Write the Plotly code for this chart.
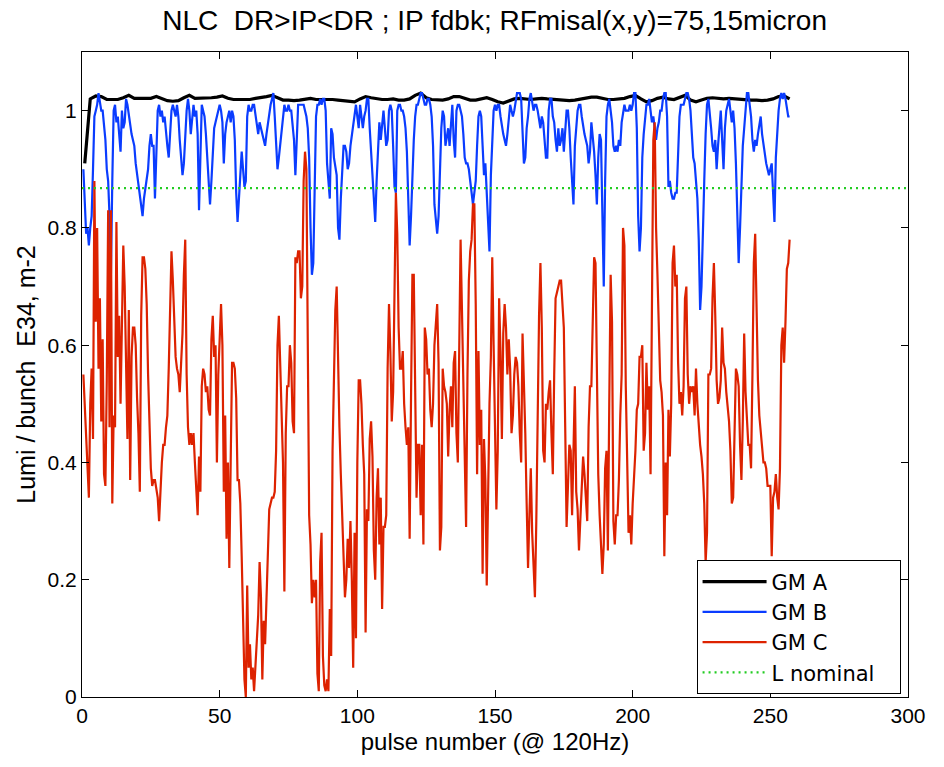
import numpy as np
import plotly.graph_objects as go

# ---------------- data ----------------
L_NOMINAL = 0.868
X_RANGE = [0, 300]

# GM A: one value every 2 pulses, starting at pulse 1
gm_a = [0.91, 1.02, 1.025, 1.024, 1.019, 1.019, 1.019, 1.022, 1.026, 1.021,
        1.021, 1.021, 1.021, 1.024, 1.020, 1.017, 1.016, 1.017, 1.022, 1.026,
        1.021, 1.021, 1.022, 1.022, 1.023, 1.025, 1.021, 1.019, 1.019, 1.019,
        1.019, 1.021, 1.022, 1.024, 1.026, 1.022, 1.018, 1.018, 1.017, 1.018,
        1.020, 1.021, 1.019, 1.019, 1.020, 1.019, 1.018, 1.017, 1.016, 1.015,
        1.020, 1.024, 1.022, 1.020, 1.019, 1.019, 1.020, 1.018, 1.018, 1.020,
        1.026, 1.030, 1.022, 1.019, 1.018, 1.018, 1.020, 1.024, 1.024, 1.021,
        1.018, 1.018, 1.020, 1.022, 1.019, 1.015, 1.013, 1.016, 1.020, 1.021,
        1.020, 1.019, 1.020, 1.021, 1.020, 1.019, 1.019, 1.018, 1.017, 1.018,
        1.020, 1.021, 1.023, 1.023, 1.021, 1.019, 1.019, 1.020, 1.021, 1.024,
        1.026, 1.020, 1.015, 1.017, 1.021, 1.023, 1.020, 1.019, 1.023, 1.026,
        1.018, 1.015, 1.018, 1.021, 1.022, 1.021, 1.020, 1.021, 1.020, 1.019,
        1.019, 1.018, 1.018, 1.017, 1.018, 1.020, 1.024, 1.025, 1.020]

# GM B: one value every half pulse, starting at pulse 0.5
gm_b = [
    0.90, 0.85, 0.79, 0.80, 0.77, 0.80, 0.82, 0.90, 0.99, 1.00,
    1.01, 1.03, 1.01, 1.00, 1.00, 0.98, 0.95, 0.90, 0.88, 0.82,
    0.72, 0.88, 1.00, 1.01, 0.98, 0.99, 0.96, 0.93, 1.00, 0.97,
    0.98, 1.02, 1.01, 0.99, 0.98, 0.96, 0.95, 0.94, 0.91, 0.89,
    0.88, 0.85, 0.83, 0.82, 0.85, 0.87, 0.89, 0.90, 0.94, 0.96,
    0.94, 0.94, 0.85, 0.95, 1.00, 1.01, 0.99, 1.00, 0.98, 0.99,
    0.96, 0.94, 0.92, 0.96, 1.00, 1.01, 1.00, 0.99, 1.01, 0.99,
    0.95, 0.92, 0.89, 0.91, 0.96, 1.00, 1.02, 1.00, 0.96, 0.98,
    1.01, 0.99, 1.00, 0.96, 0.83, 0.92, 1.01,
    1.00, 0.99, 0.96, 0.92, 0.88, 0.84, 0.88, 0.94, 0.97, 0.98,
    0.99, 1.00, 1.01, 1.00, 0.98, 0.91, 0.96, 0.98, 0.99, 1.00,
    0.98, 1.00, 0.99, 0.95, 0.86, 0.81, 0.85, 0.90, 0.93, 0.90,
    0.87, 0.88, 0.99, 1.01, 1.00, 1.00, 1.01, 1.01, 0.99, 0.97,
    0.96, 0.98, 0.97, 0.96, 0.95, 0.94, 0.96, 0.98, 1.00, 1.01,
    1.02, 1.03, 0.99, 0.93, 0.90, 0.92, 0.94, 0.96, 0.99, 1.01,
    1.00, 1.00, 1.01, 1.00, 1.00, 0.97, 0.95, 0.89, 0.94, 1.01,
    1.01, 1.01, 1.01, 1.01, 1.00, 0.99, 0.97, 0.92, 0.80, 0.72,
    0.74, 0.88, 0.99, 1.01, 1.01,
    1.02, 1.01, 1.02, 1.02, 1.00, 0.91, 0.88, 0.85, 0.97, 0.96,
    0.92, 0.90, 0.89, 0.80, 0.78, 0.85, 0.90, 0.94, 0.94, 0.93,
    0.90, 0.91, 0.94, 0.96, 0.98, 1.00, 1.01, 0.99, 0.97, 1.01,
    0.99, 0.97, 0.99, 1.00, 1.02, 1.02, 0.97, 0.93, 0.89, 0.87,
    0.81, 0.88, 0.94, 0.98, 0.95, 0.98, 1.00, 0.97, 0.94, 0.95,
    1.00, 1.01, 1.00, 0.94, 0.87, 0.86, 1.00, 1.01, 1.01, 1.00,
    1.00, 0.99, 0.97, 0.93, 0.86, 0.77, 0.82, 0.89, 0.95, 0.99,
    1.01, 1.01, 1.02, 1.03, 1.03, 1.02, 1.01, 1.01, 1.02, 1.02,
    1.01, 0.99, 0.94, 0.84, 0.82,
    0.79, 0.82, 0.91, 0.97, 1.00, 0.99, 0.94, 0.96, 0.97, 0.94,
    0.98, 1.01, 0.95, 0.92, 1.00, 1.01, 1.01, 1.00, 0.99, 0.96,
    0.92, 0.91, 0.91, 0.90, 0.88, 0.87, 0.84, 0.86, 0.88, 0.94,
    0.99, 1.00, 0.99, 0.94, 0.89, 0.91, 0.86, 0.79, 0.76, 0.89,
    0.96, 1.00, 1.01, 1.00, 1.01, 1.01, 0.99, 0.97, 0.96, 0.95,
    0.94, 0.96, 0.99, 1.01, 1.00, 0.99, 1.00, 1.02, 1.03, 1.03,
    1.03, 1.02, 0.97, 0.91, 0.92, 0.97, 0.99, 1.02, 1.03, 1.01,
    1.00, 1.01, 1.01, 1.00, 0.98, 0.97, 0.99, 0.98, 0.95, 0.92,
    0.92, 1.00, 1.02, 1.02,
    0.99, 0.98, 0.95, 0.93, 0.97, 0.94, 0.95, 0.97, 0.93, 0.97,
    1.00, 1.00, 0.97, 0.92, 0.87, 0.84, 0.94, 0.97, 1.00, 1.01,
    1.01, 0.99, 0.97, 0.96, 0.95, 0.94, 0.91, 0.93, 0.98, 0.96,
    0.93, 0.89, 0.84, 0.92, 0.96, 0.95, 0.82, 0.70, 0.88, 0.99,
    1.01, 1.02, 1.00, 0.98, 0.94, 0.93, 0.94, 0.93, 0.95, 0.94,
    0.98, 1.00, 1.01, 1.00, 1.00, 1.00, 1.01, 1.00, 1.01, 1.03,
    1.03, 0.97, 0.82, 0.76, 0.80, 0.92, 0.96, 0.98, 1.01, 1.01,
    1.02, 1.00, 0.98, 0.99, 0.97, 0.95, 0.97, 0.98, 1.00, 1.00,
    1.02, 1.03, 1.03, 0.99, 0.87,
    0.88, 0.86, 0.85, 0.85, 0.86, 0.86, 0.94, 0.99, 1.01, 1.01,
    1.01, 1.02, 1.03, 1.03, 1.02, 1.00, 0.96, 0.92, 0.91, 0.88,
    0.85, 0.78, 0.66, 0.70, 0.82, 0.88, 0.96, 1.01, 1.02, 1.00,
    0.97, 0.94, 0.93, 0.95, 0.90, 0.94, 0.97, 1.00, 0.95, 0.90,
    0.97, 1.00, 1.01, 1.02, 1.00, 0.98, 1.00, 0.97, 0.91, 0.82,
    0.74, 0.80, 0.89, 0.94, 0.97, 1.01, 1.03, 1.03, 1.01, 0.99,
    0.95, 0.93, 0.95, 0.94, 0.96, 0.98, 0.99, 0.96, 0.94, 0.93,
    0.91, 0.90, 0.89, 0.90, 0.91, 0.86, 0.81, 0.92, 0.97, 1.00,
    1.02, 1.03, 1.02, 1.03, 1.02, 1.00, 0.99, 0.99]

# GM C: one value every half pulse, starting at pulse 0.5
gm_c = [
    0.55, 0.50, 0.44, 0.40, 0.34, 0.50, 0.56, 0.44, 0.88, 0.64,
    0.80, 0.56, 0.68, 0.47, 0.61, 0.38, 0.36, 0.54, 0.83, 0.46,
    0.83, 0.33, 0.48, 0.46, 0.81, 0.58, 0.65, 0.50, 0.63, 0.77,
    0.70, 0.57, 0.44, 0.66, 0.37, 0.58, 0.63, 0.63, 0.60, 0.51,
    0.45, 0.35, 0.65, 0.75, 0.75, 0.73, 0.67, 0.55, 0.46, 0.39,
    0.36, 0.37, 0.37, 0.35, 0.34, 0.30, 0.36, 0.40, 0.43, 0.43,
    0.46, 0.48, 0.56, 0.69, 0.76, 0.71, 0.63, 0.58, 0.56, 0.55,
    0.52, 0.56, 0.62, 0.72, 0.78, 0.55, 0.46, 0.43, 0.45, 0.43,
    0.45, 0.40, 0.36, 0.31, 0.41, 0.35, 0.53,
    0.56, 0.55, 0.52, 0.53, 0.49, 0.48, 0.61, 0.65, 0.58, 0.60,
    0.40, 0.55, 0.60, 0.67, 0.60, 0.35, 0.48, 0.27, 0.40, 0.22,
    0.40, 0.57, 0.57, 0.56, 0.51, 0.37, 0.37, 0.33, 0.24, 0.15,
    0.03, 0.00, 0.19, 0.05, 0.09, 0.03, 0.05, 0.01, 0.05, 0.11,
    0.14, 0.23, 0.17, 0.03, 0.13, 0.09, 0.16, 0.25, 0.32, 0.33,
    0.34, 0.34, 0.35, 0.42, 0.60, 0.65, 0.55, 0.50, 0.40, 0.18,
    0.45, 0.53, 0.53, 0.60, 0.57, 0.47, 0.45, 0.75, 0.74, 0.76,
    0.76, 0.68, 0.70, 0.88, 0.93, 0.90, 0.51, 0.31, 0.26, 0.16,
    0.20, 0.17, 0.20, 0.04, 0.01,
    0.23, 0.28, 0.07, 0.02, 0.01, 0.03, 0.01, 0.15, 0.07, 0.42,
    0.55, 0.66, 0.70, 0.56, 0.46, 0.38, 0.31, 0.25, 0.17, 0.20,
    0.27, 0.22, 0.30, 0.20, 0.05, 0.28, 0.10, 0.40, 0.54, 0.54,
    0.50, 0.43, 0.38, 0.11, 0.32, 0.30, 0.44, 0.47, 0.41, 0.25,
    0.20, 0.34, 0.39, 0.26, 0.34, 0.15, 0.29, 0.29, 0.31, 0.56,
    0.67, 0.59, 0.47, 0.52, 0.73, 0.86, 0.79, 0.63, 0.56, 0.56,
    0.59, 0.50, 0.46, 0.43, 0.46, 0.27, 0.51, 0.72, 0.72, 0.57,
    0.34, 0.43, 0.43, 0.31, 0.43, 0.26, 0.63, 0.61, 0.55, 0.56,
    0.49, 0.46, 0.50, 0.60, 0.64,
    0.67, 0.57, 0.25, 0.29, 0.56, 0.53, 0.52, 0.50, 0.41, 0.49,
    0.53, 0.46, 0.57, 0.59, 0.45, 0.40, 0.62, 0.78, 0.66, 0.53,
    0.45, 0.29, 0.55, 0.71, 0.76, 0.78, 0.84, 0.84, 0.67, 0.38,
    0.59, 0.43, 0.49, 0.21, 0.44, 0.37, 0.19, 0.38, 0.50, 0.58,
    0.75, 0.60, 0.44, 0.32, 0.42, 0.68, 0.59, 0.44, 0.62, 0.67,
    0.63, 0.55, 0.61, 0.56, 0.45, 0.48, 0.55, 0.58, 0.57, 0.53,
    0.45, 0.40, 0.62, 0.54, 0.45, 0.33, 0.22, 0.31, 0.39, 0.28,
    0.23, 0.17, 0.30, 0.49, 0.65, 0.74, 0.63, 0.42, 0.40, 0.50,
    0.49, 0.52, 0.54, 0.45,
    0.38, 0.55, 0.68, 0.69, 0.70, 0.71, 0.71, 0.66, 0.63, 0.46,
    0.29, 0.36, 0.43, 0.42, 0.31, 0.42, 0.53, 0.35, 0.32, 0.25,
    0.31, 0.38, 0.41, 0.38, 0.34, 0.30, 0.46, 0.53, 0.53, 0.65,
    0.75, 0.74, 0.52, 0.38, 0.31, 0.25, 0.21, 0.26, 0.39, 0.42,
    0.25, 0.50, 0.72, 0.64, 0.30, 0.26, 0.31, 0.31, 0.37, 0.48,
    0.55, 0.80, 0.77, 0.53, 0.42, 0.28, 0.31, 0.26, 0.33, 0.37,
    0.42, 0.49, 0.50, 0.58, 0.58, 0.60, 0.42, 0.45, 0.57, 0.49,
    0.53, 0.38, 0.61, 0.95, 0.98, 0.80, 0.72, 0.63, 0.54, 0.52,
    0.48, 0.24, 0.40, 0.31, 0.49,
    0.41, 0.50, 0.74, 0.77, 0.70, 0.72, 0.57, 0.50, 0.52, 0.48,
    0.53, 0.68, 0.70, 0.55, 0.50, 0.53, 0.52, 0.53, 0.48, 0.56,
    0.50, 0.46, 0.43, 0.41, 0.38, 0.33, 0.23, 0.28, 0.55, 0.55,
    0.56, 0.68, 0.74, 0.65, 0.54, 0.50, 0.51, 0.54, 0.63, 0.57,
    0.56, 0.52, 0.49, 0.47, 0.42, 0.33, 0.34, 0.43, 0.56, 0.55,
    0.53, 0.43, 0.37, 0.47, 0.62, 0.52, 0.48, 0.43, 0.43, 0.39,
    0.55, 0.74, 0.79, 0.62, 0.54, 0.48, 0.45, 0.43, 0.40, 0.40,
    0.39, 0.36, 0.36, 0.36, 0.24, 0.34, 0.35, 0.38, 0.34, 0.32,
    0.39, 0.60, 0.63, 0.57, 0.64, 0.73, 0.74, 0.78]

pulse_a = 1 + 2 * np.arange(len(gm_a))
pulse_b = 0.5 + 0.5 * np.arange(len(gm_b))
pulse_c = 0.5 + 0.5 * np.arange(len(gm_c))

TITLE = "NLC&nbsp; DR&gt;IP&lt;DR ; IP fdbk; RFmisal(x,y)=75,15micron"
XLABEL = "pulse number (@ 120Hz)"
YLABEL = "Lumi / bunch&nbsp; E34, m-2"
PAD = "&nbsp;&nbsp;&nbsp;"

FONT = "Liberation Sans, Arial, Helvetica, sans-serif"
LEGFONT = "DejaVu Sans, Liberation Sans, sans-serif"

fig = go.Figure()
fig.add_trace(go.Scatter(x=pulse_a, y=gm_a, mode="lines", name="GM A" + PAD,
                         line=dict(color="#000000", width=3.2), legendgroup="a"))
fig.add_trace(go.Scatter(x=pulse_b, y=gm_b, mode="lines", name="GM B" + PAD,
                         line=dict(color="#0a3cff", width=2.2), legendgroup="b"))
fig.add_trace(go.Scatter(x=pulse_c, y=gm_c, mode="lines", name="GM C" + PAD,
                         line=dict(color="#dd2200", width=2.2), legendgroup="c"))
fig.add_trace(go.Scatter(x=X_RANGE, y=[L_NOMINAL, L_NOMINAL], mode="lines",
                         name="L nominal" + PAD, legendgroup="d",
                         line=dict(color="#22cc22", width=2.2, dash="2px,4px")))

axis_common = dict(showgrid=False, zeroline=False, showline=True, linecolor="black",
                   linewidth=1, mirror="ticks", ticks="inside", ticklen=7,
                   tickcolor="black", tickfont=dict(family=FONT, size=21, color="black"))

fig.update_layout(
    width=944, height=767,
    paper_bgcolor="white", plot_bgcolor="white",
    margin=dict(l=82, r=36, t=52, b=70),
    font=dict(family=FONT, size=21, color="black"),
    title=dict(text=TITLE, x=0.524, xanchor="center", y=0.974, yanchor="middle",
               font=dict(family=FONT, size=28, color="black")),
    xaxis=dict(range=[0, 300], dtick=50, tick0=0,
               title=dict(text=XLABEL, standoff=6, font=dict(family=FONT, size=24)),
               **axis_common),
    yaxis=dict(range=[0, 1.1], dtick=0.2, tick0=0,
               title=dict(text=YLABEL, standoff=4, font=dict(family=FONT, size=25)),
               **axis_common),
    legend=dict(x=0.991, y=0.004, xanchor="right", yanchor="bottom",
                bgcolor="white", bordercolor="black", borderwidth=1,
                font=dict(family=LEGFONT, size=21, color="black"),
                tracegroupgap=0, itemwidth=64),
    showlegend=True,
)

fig.write_html("out.html")
